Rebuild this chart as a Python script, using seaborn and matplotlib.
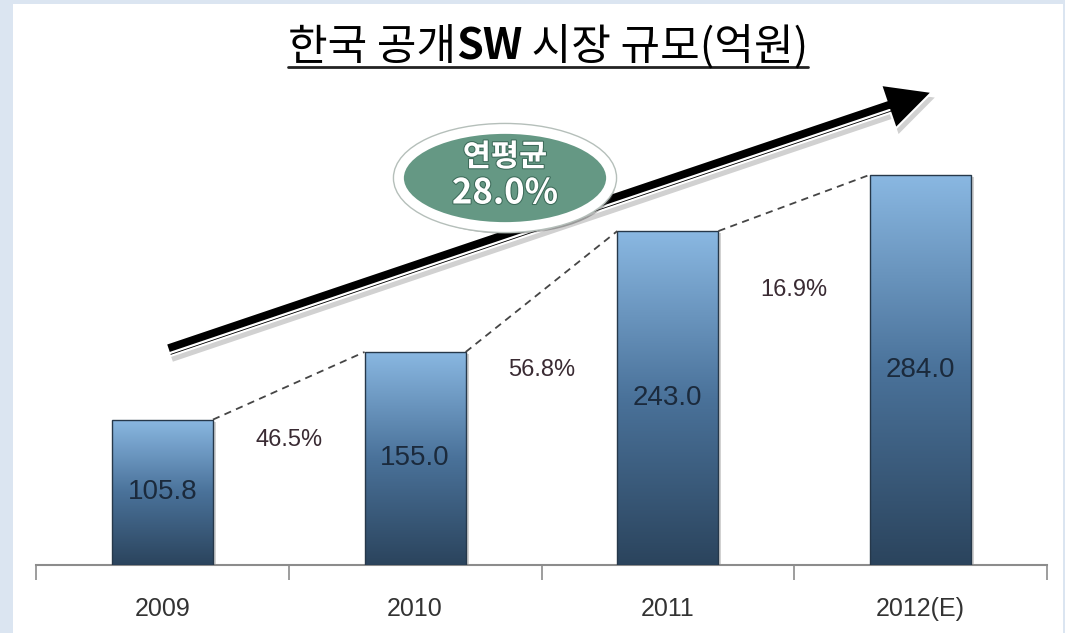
import numpy as np
import matplotlib
matplotlib.use("Agg")
import matplotlib.pyplot as plt
import matplotlib.patheffects as pe
import matplotlib.transforms as mtransforms
import seaborn as sns
from matplotlib.patches import Ellipse, FancyArrow, Rectangle
from matplotlib.lines import Line2D
from matplotlib.colors import LinearSegmentedColormap

# data
years = ["2009", "2010", "2011", "2012(E)"]
market = [105.8, 155.0, 243.0, 284.0]
growth = ["46.5%", "56.8%", "16.9%"]
cagr_title = "연평균"
cagr_value = "28.0%"
title_parts = ["한국 공개", "SW", " 시장 규모(억원)"]

# where the growth labels sit (data units of the y axis)
growth_label_y = [91, 142, 200]

W, H = 1065, 633

sns.set_theme(style="white")
plt.rcParams["font.family"] = ["Noto Sans CJK KR", "DejaVu Sans"]
latin = ["Liberation Sans", "DejaVu Sans"]


def fx(x):
    return x / W


def fy(y):
    return 1 - y / H


def inch(x, y):
    # pixel position in the picture -> inches for dpi_scale_trans
    return x / 100, (H - y) / 100


fig = plt.figure(figsize=(W / 100, H / 100), dpi=100, facecolor="#dbe5f1")
fig.add_artist(Rectangle((fx(13), 0), fx(1063) - fx(13), fy(4),
                         transform=fig.transFigure, facecolor="white",
                         edgecolor="none", zorder=0))

ax = fig.add_axes([fx(36), fy(565), fx(1047) - fx(36), fy(84) - fy(565)])
ax.set_facecolor("none")
sns.barplot(x=years, y=market, width=0.4, color="#4f7aa3",
            edgecolor="#26384a", linewidth=1, ax=ax, zorder=3)
bars = list(ax.patches)

# vertical gradient on each bar + soft shadow
cmap = LinearSegmentedColormap.from_list("bar", ["#2b445d", "#4a729a", "#8ab8e2"])
grad = np.linspace(0, 1, 256).reshape(-1, 1)
shadow_tr = ax.transData + mtransforms.ScaledTranslation(3 / 100, -2 / 100, fig.dpi_scale_trans)
for bar in bars:
    x0, y0 = bar.get_x(), bar.get_y()
    w, h = bar.get_width(), bar.get_height()
    im = ax.imshow(grad, cmap=cmap, origin="lower", aspect="auto",
                   extent=[x0, x0 + w, y0, y0 + h], zorder=3.5)
    im.set_clip_path(bar)
    bar.set_facecolor("none")
    bar.set_zorder(4)
    ax.add_patch(Rectangle((x0, y0), w, h, transform=shadow_tr,
                           facecolor="black", alpha=0.18, edgecolor="none", zorder=2.5))

# dashed connectors between bar tops
for i in range(len(market) - 1):
    b0, b1 = bars[i], bars[i + 1]
    ax.plot([b0.get_x() + b0.get_width(), b1.get_x()], [market[i], market[i + 1]],
            ls=(0, (4, 3)), color="#454545", lw=1.3, zorder=5)
    ax.text(i + 0.5, growth_label_y[i], growth[i], ha="center", va="center",
            fontsize=17, color="#3a2b33", family=latin)

for i, v in enumerate(market):
    ax.text(i, v / 2, f"{v:.1f}", ha="center", va="center", fontsize=20,
            color="#1b2a3c", family=latin, zorder=6)

ax.set_xlim(-0.5, 3.5)
ax.set_ylim(0, 350)
ax.set_yticks([])
ax.set_xlabel("")
ax.set_ylabel("")
for s in ["left", "top", "right"]:
    ax.spines[s].set_visible(False)
ax.spines["bottom"].set_color("#8c8c8c")
ax.spines["bottom"].set_linewidth(1.5)
ax.set_xticks([-0.5, 0.5, 1.5, 2.5, 3.5], minor=True)
ax.tick_params(axis="x", which="minor", bottom=True, length=11, width=1.2,
               color="#8c8c8c", direction="out")
ax.tick_params(axis="x", which="major", length=0, pad=23, labelsize=18,
               labelcolor="#333333")
for lab in ax.get_xticklabels():
    lab.set_family(latin)

# big trend arrow
sx, sy = inch(168, 350)
ex, ey = inch(932, 92)
arrow = FancyArrow(sx, sy, ex - sx, ey - sy, width=0.13, head_width=0.46,
                   head_length=0.46, length_includes_head=True,
                   transform=fig.dpi_scale_trans, facecolor="black",
                   edgecolor="white", lw=1.5, zorder=7,
                   path_effects=[pe.SimplePatchShadow(offset=(2, -4), alpha=0.18), pe.Normal()])
fig.add_artist(arrow)
L = np.hypot(ex - sx, ey - sy)
ux, uy = (ex - sx) / L, (ey - sy) / L
nx, ny = uy, -ux
off = 0.035
hl = 0.46
fig.add_artist(Line2D([sx + nx * off, ex - ux * hl + nx * off],
                      [sy + ny * off, ey - uy * hl + ny * off],
                      transform=fig.dpi_scale_trans, color="white", lw=1.6, zorder=7.5))

# CAGR ellipse
cx, cy = inch(505, 178)
ell = Ellipse((cx, cy), 2.12, 0.98, transform=fig.dpi_scale_trans,
              facecolor="#659884", edgecolor="white", lw=7, zorder=8,
              path_effects=[pe.SimplePatchShadow(offset=(3, -5), shadow_rgbFace="#555555", alpha=0.45),
                            pe.Stroke(linewidth=9, foreground="#b5bfba"), pe.Normal()])
fig.add_artist(ell)
fig.text(fx(505), fy(157), cagr_title, ha="center", va="center", fontsize=22,
         weight="bold", color="white", zorder=9,
         path_effects=[pe.withStroke(linewidth=1.5, foreground="#3d6b5a")])
fig.text(fx(505), fy(193), cagr_value, ha="center", va="center", fontsize=25,
         weight="bold", color="white", zorder=9,
         path_effects=[pe.withStroke(linewidth=1.5, foreground="#3d6b5a")])

# title, with bold "SW", underlined
renderer = fig.canvas.get_renderer()
pieces = []
for k, part in enumerate(title_parts):
    t = fig.text(0, fy(60), part, ha="left", va="baseline", fontsize=31,
                 weight="bold" if k == 1 else "normal", color="black")
    pieces.append(t)
widths = [t.get_window_extent(renderer).width for t in pieces]
x = 548 - sum(widths) / 2
start = x
for t, w in zip(pieces, widths):
    t.set_x(fx(x))
    x += w
fig.add_artist(Line2D([fx(start), fx(x)], [fy(67), fy(67)], transform=fig.transFigure,
                      color="#222222", lw=2))

fig.savefig("out.png", dpi=100, facecolor=fig.get_facecolor())
